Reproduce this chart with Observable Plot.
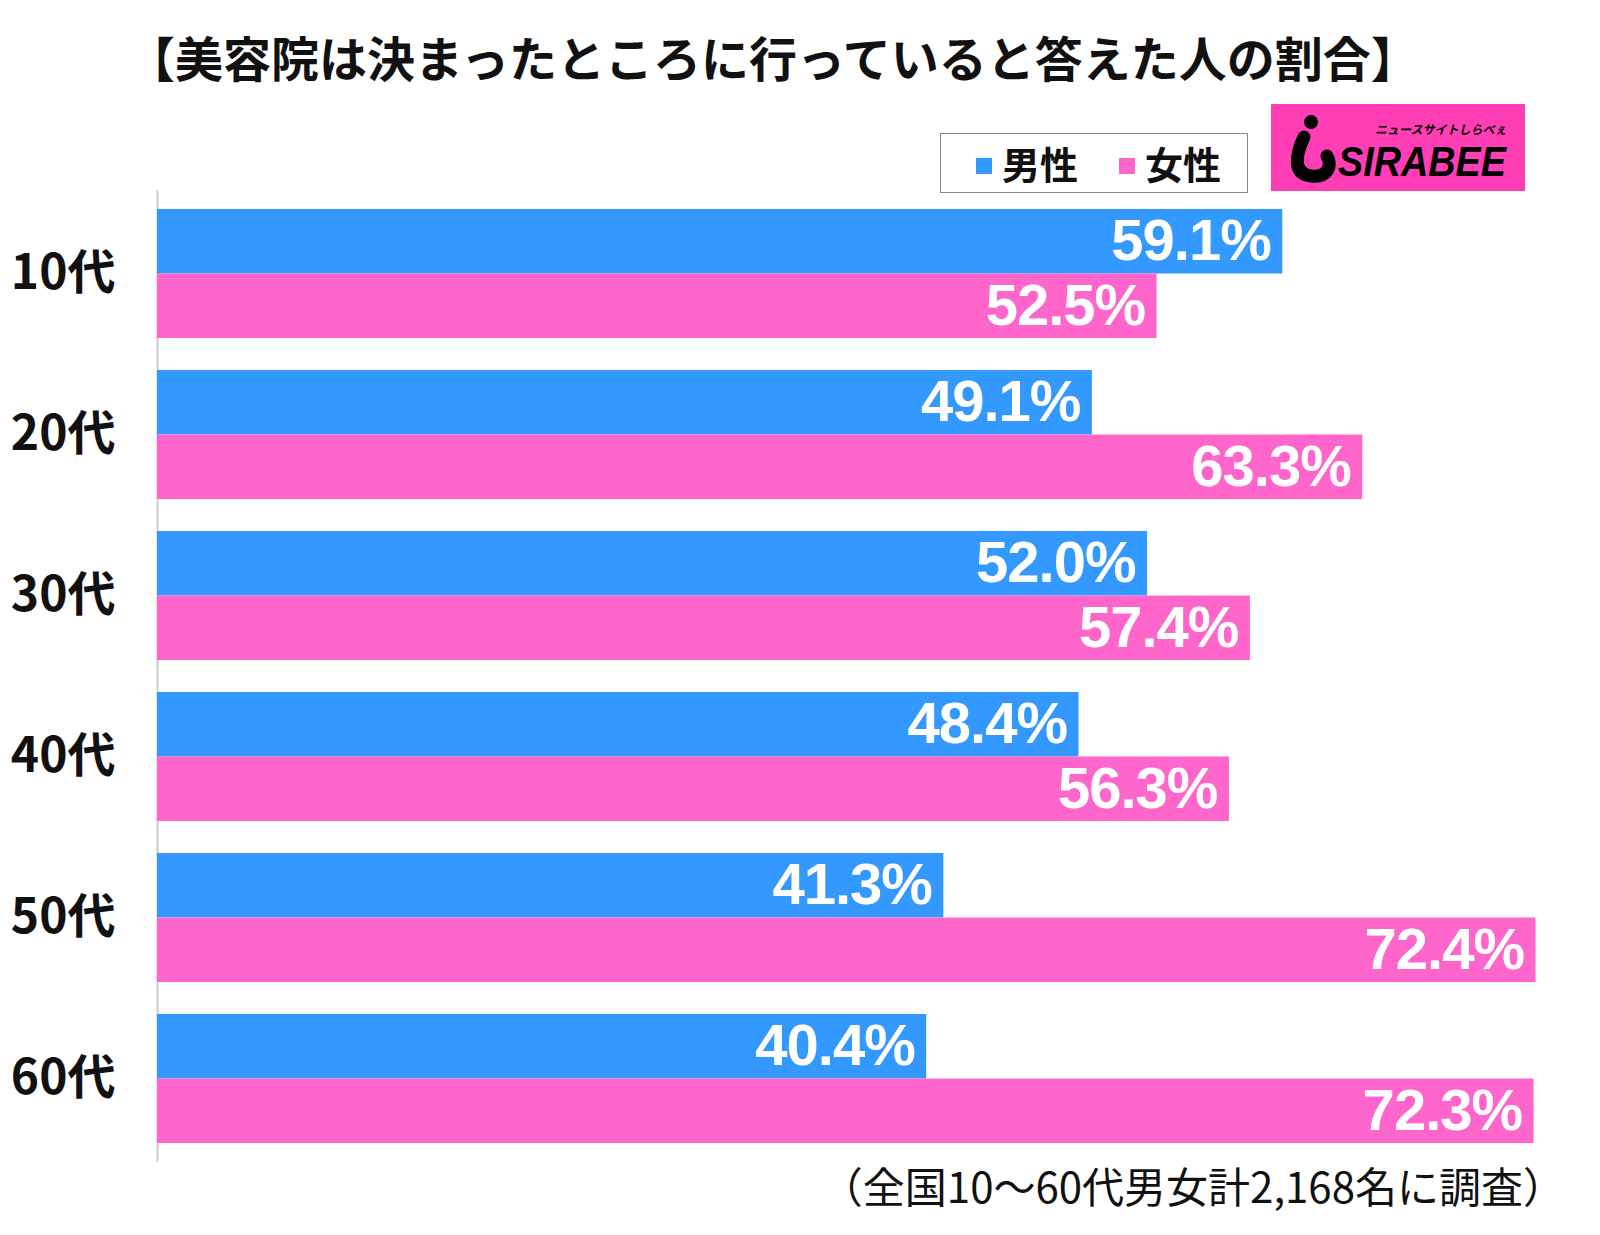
<!DOCTYPE html>
<html>
<head>
<meta charset="utf-8">
<script src="https://cdn.jsdelivr.net/npm/d3@7"></script>
<script src="https://cdn.jsdelivr.net/npm/@observablehq/plot@0.6"></script>
<style>
  html, body { margin: 0; padding: 0; background: #fff; }
  body { width: 1600px; height: 1235px; overflow: hidden; font-family: "Noto Sans CJK JP", sans-serif; }
  #header { position: relative; height: 190px; width: 1600px; }
  #title { position: absolute; left: 127px; top: 24px; font-size: 48px; font-weight: 700; line-height: 64px; white-space: nowrap; color: #111; }
  #legend { position: absolute; left: 940px; top: 133px; width: 308px; height: 60px; border: 1.5px solid #888; box-sizing: border-box; }
  .lg-item { position: absolute; top: 0; height: 58px; line-height: 58px; font-size: 38px; font-weight: 700; color: #111; white-space: nowrap; }
  .lg-sw { display: inline-block; width: 16px; height: 16px; margin-right: 10px; vertical-align: middle; position: relative; top: -3px; }
  #logo { position: absolute; left: 1271px; top: 104px; width: 254px; height: 87px; }
  #chart { width: 1600px; height: 975px; }
  #note { width: 1600px; box-sizing: border-box; padding-right: 35px; margin-top: -5px; text-align: right; font-size: 42px; line-height: 49px; color: #111; white-space: nowrap; }
</style>
</head>
<body>
<div id="header">
  <div id="title"></div>
  <div id="legend"></div>
  <svg id="logo" viewBox="0 0 254 87" xmlns="http://www.w3.org/2000/svg">
    <rect x="0" y="0" width="254" height="87" fill="#ff3db5"/>
    <circle cx="40" cy="18" r="7" fill="#000"/>
    <path d="M33,33 C24,52 22,70 40,72 C56,74 62,62 56,52" fill="none" stroke="#000" stroke-width="13" stroke-linecap="round"/>
    <text x="104" y="30" font-size="12" font-weight="700" font-style="italic" fill="#000" font-family="Noto Sans CJK JP">ニュースサイトしらべぇ</text>
    <text x="67" y="72" font-size="42" font-weight="900" font-style="italic" fill="#000" font-family="Liberation Sans, Arial" textLength="168" lengthAdjust="spacingAndGlyphs">SIRABEE</text>
  </svg>
</div>
<div id="chart"></div>
<div id="note"></div>
<script>
const titleText = "【美容院は決まったところに行っていると答えた人の割合】";
const noteText = "（全国10～60代男女計2,168名に調査）";
const ages = ["10代", "20代", "30代", "40代", "50代", "60代"];
const seriesNames = ["男性", "女性"];
const seriesColors = ["#3399ff", "#ff66cc"];
const male = [59.1, 49.1, 52.0, 48.4, 41.3, 40.4];
const female = [52.5, 63.3, 57.4, 56.3, 72.4, 72.3];

document.getElementById("title").textContent = titleText;
document.getElementById("note").textContent = noteText;

const legend = document.getElementById("legend");
const legendLefts = [35, 178];
seriesNames.forEach((name, i) => {
  const item = document.createElement("div");
  item.className = "lg-item";
  item.style.left = legendLefts[i] + "px";
  const sw = document.createElement("span");
  sw.className = "lg-sw";
  sw.style.background = seriesColors[i];
  item.appendChild(sw);
  item.appendChild(document.createTextNode(name));
  legend.appendChild(item);
});

const maleData = ages.map((a, i) => ({age: a, value: male[i]}));
const femaleData = ages.map((a, i) => ({age: a, value: female[i]}));
const fmt = v => v.toFixed(1) + "%";
const half = 64.5;

const plot = Plot.plot({
  width: 1600,
  height: 975,
  marginTop: 0,
  marginBottom: 3,
  marginLeft: 157,
  marginRight: 15,
  style: {fontFamily: "'Noto Sans CJK JP', sans-serif", color: "#000", background: "#fff"},
  x: {domain: [0, 75], axis: null},
  y: {type: "band", domain: ages, paddingInner: 0.197, paddingOuter: 0.105, label: null},
  marks: [
    Plot.ruleX([0], {stroke: "#cccccc", strokeWidth: 2}),
    Plot.barX(maleData, {x: "value", y: "age", fill: seriesColors[0], insetBottom: half}),
    Plot.barX(femaleData, {x: "value", y: "age", fill: seriesColors[1], insetTop: half}),
    Plot.text(maleData, {x: "value", y: "age", text: d => fmt(d.value), dy: -32.5, dx: -12, textAnchor: "end", fill: "#fff", fontSize: 58, fontWeight: "bold", fontFamily: "'Liberation Sans', Arial, sans-serif"}),
    Plot.text(femaleData, {x: "value", y: "age", text: d => fmt(d.value), dy: 32.5, dx: -12, textAnchor: "end", fill: "#fff", fontSize: 58, fontWeight: "bold", fontFamily: "'Liberation Sans', Arial, sans-serif"}),
    Plot.axisY({tickSize: 0, tickPadding: 42, fontSize: 48, fontWeight: "bold", label: null, fill: "#111"})
  ]
});
d3.select(plot).selectAll("g[aria-label='text'] text").style("letter-spacing", "-1px");
document.getElementById("chart").appendChild(plot);
</script>
</body>
</html>
